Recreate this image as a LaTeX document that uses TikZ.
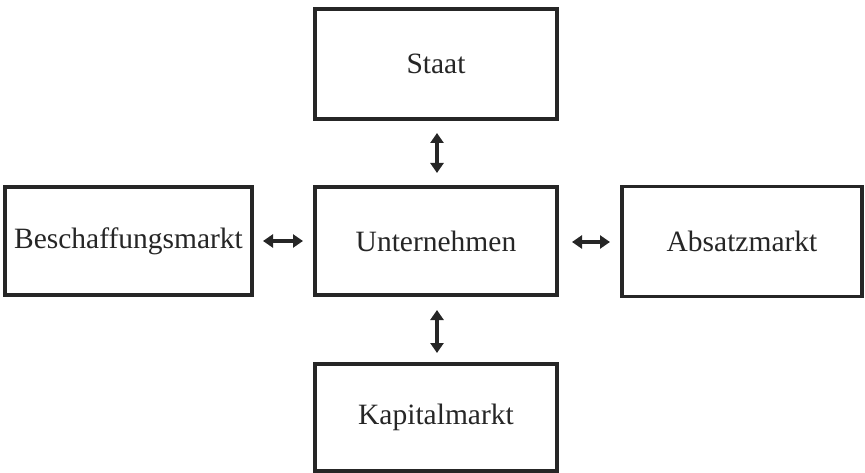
\documentclass[tikz,border=0pt]{standalone}
\usepackage{fontspec}
\setmainfont{Liberation Serif}
\usetikzlibrary{arrows.meta}
\begin{document}
\begin{tikzpicture}[x=1pt,y=-1pt,
  box/.style={draw=black!85,line width=3.5pt,fill=white,inner sep=0pt,
    font=\fontsize{29.5}{33}\selectfont,text=black!85},
  link/.style={line width=3.5pt,draw=black!85,{Triangle[width=13pt,length=10pt]}-{Triangle[width=13pt,length=10pt]},shorten <=0pt,shorten >=0pt}]
\useasboundingbox (0,0) rectangle (865,473);
\node[box,minimum width=242pt,minimum height=110pt] (staat) at (436,64) {Staat};
\node[box,minimum width=242pt,minimum height=108pt] (unt) at (436,241) {Unternehmen};
\node[box,minimum width=242pt,minimum height=107pt] (kap) at (436,417.5) {Kapitalmarkt};
\node[box,minimum width=247pt,minimum height=108pt] (besch) at (128.5,241) {Beschaffungsmarkt};
\node[box,minimum width=240pt,minimum height=110pt] (abs) at (742,241.5) {Absatzmarkt};
\coordinate (a1) at (437,133);
\coordinate (a2) at (437,173);
\coordinate (b1) at (437,310);
\coordinate (b2) at (437,353);
\coordinate (c1) at (263,241);
\coordinate (c2) at (303,241);
\coordinate (d1) at (572,242);
\coordinate (d2) at (610,242);
\draw[link] (a1) -- (a2);
\draw[link] (b1) -- (b2);
\draw[link] (c1) -- (c2);
\draw[link] (d1) -- (d2);
\end{tikzpicture}
\end{document}
